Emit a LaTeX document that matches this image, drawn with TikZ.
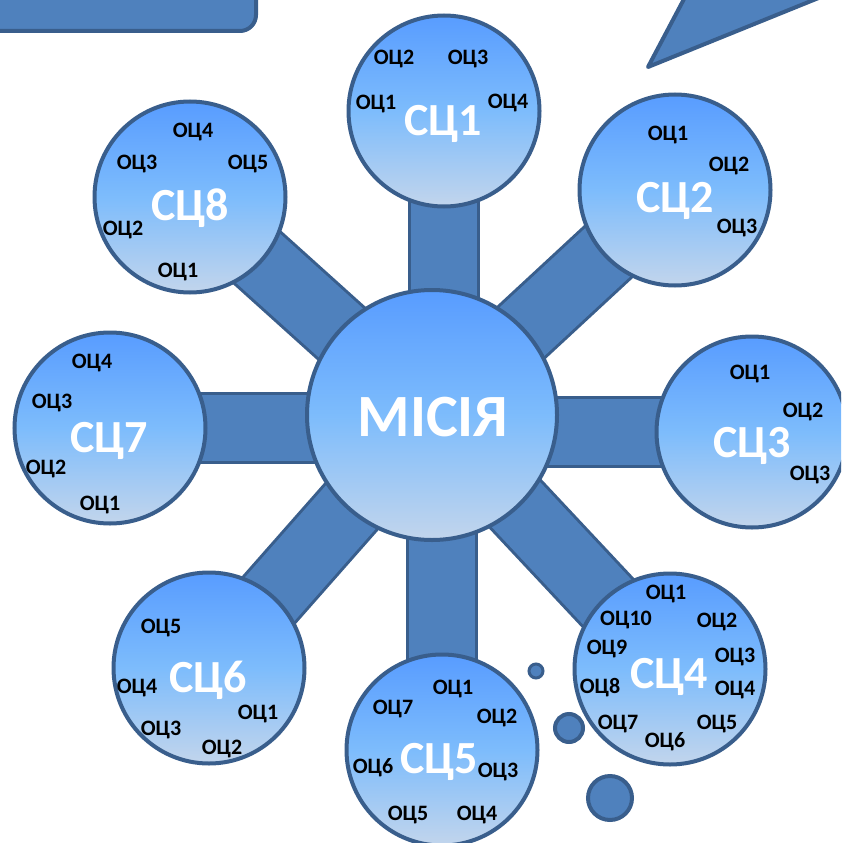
\documentclass[tikz,border=0pt]{standalone}
\usepackage{fontspec}
\setmainfont{Carlito}
\usetikzlibrary{backgrounds}
\definecolor{barBlue}{RGB}{79,129,189}
\definecolor{edgeBlue}{RGB}{57,94,140}
\definecolor{topBlue}{RGB}{88,156,255}
\definecolor{midBlue}{RGB}{125,188,252}
\definecolor{lowBlue}{RGB}{194,213,236}
\tikzset{
	satCircle/.style={circle, draw=edgeBlue, line width=4pt, top color=topBlue, bottom color=lowBlue, middle color=midBlue, minimum size=191pt, inner sep=0pt},
	satLabel/.style={text=white, font=\bfseries\fontsize{46}{46}\selectfont, inner sep=0pt, text depth=0pt},
	goalLabel/.style={font=\bfseries\fontsize{22}{22}\selectfont, inner sep=0pt, text depth=0pt},
	barOuter/.style={line width=72pt, draw=edgeBlue},
	barInner/.style={line width=66pt, draw=barBlue},
	bubble/.style={circle, draw=edgeBlue, fill=barBlue, line width=4pt, inner sep=0pt}
}
\begin{document}
\begin{tikzpicture}[x=1pt, y=-1pt]
\useasboundingbox (0,0) rectangle (841,843);
\clip (0,0) rectangle (841,843);
\draw[draw=edgeBlue, fill=barBlue, line width=4pt, rounded corners=16pt] (-30,-30) rectangle (256,31);
\draw[draw=edgeBlue, fill=barBlue, line width=4pt, line join=round] (648,67) -- (702,-35) -- (900,-35) -- cycle;

\node[satCircle, minimum size=250pt](missionCircle) at (432,415){};
	\node[satLabel, font=\bfseries\fontsize{60}{60}\selectfont](missionLabel) at (433,417){МІСІЯ};

	\node[satCircle](sc1Circle) at (444,111){};
	\node[satCircle](sc2Circle) at (675,190){};
	\node[satCircle](sc3Circle) at (752,432){};
	\node[satCircle](sc4Circle) at (670,669){};
	\node[satCircle](sc5Circle) at (442,750){};
	\node[satCircle](sc6Circle) at (209,668){};
	\node[satCircle](sc7Circle) at (110,428){};
	\node[satCircle](sc8Circle) at (190,197){};

	\begin{pgfonlayer}{background}
	\draw[barOuter] (sc1Circle.center) -- (sc1Circle.center |- missionCircle.center);
	\draw[barOuter] (missionCircle.center) -- (sc2Circle.center);
	\draw[barOuter] (sc3Circle.center) -- (sc3Circle.center -| missionCircle.center);
	\draw[barOuter] (missionCircle.center) -- (sc4Circle.center);
	\draw[barOuter] (sc5Circle.center) -- (sc5Circle.center |- missionCircle.center);
	\draw[barOuter] (missionCircle.center) -- (sc6Circle.center);
	\draw[barOuter] (sc7Circle.center) -- (sc7Circle.center -| missionCircle.center);
	\draw[barOuter] (missionCircle.center) -- (sc8Circle.center);
	\draw[barInner] (sc1Circle.center) -- (sc1Circle.center |- missionCircle.center);
	\draw[barInner] (missionCircle.center) -- (sc2Circle.center);
	\draw[barInner] (sc3Circle.center) -- (sc3Circle.center -| missionCircle.center);
	\draw[barInner] (missionCircle.center) -- (sc4Circle.center);
	\draw[barInner] (sc5Circle.center) -- (sc5Circle.center |- missionCircle.center);
	\draw[barInner] (missionCircle.center) -- (sc6Circle.center);
	\draw[barInner] (sc7Circle.center) -- (sc7Circle.center -| missionCircle.center);
	\draw[barInner] (missionCircle.center) -- (sc8Circle.center);
	\end{pgfonlayer}

	\node[bubble, minimum size=14pt, line width=3pt](bubbleSmall) at (536,671){};
	\node[bubble, minimum size=28pt](bubbleMid) at (569,728){};
	\node[bubble, minimum size=44pt](bubbleBig) at (610,798){};

	\node[satLabel](sc1Label) at (443,120){СЦ1};
	\node[goalLabel](sc1Goal1) at (376,102){ОЦ1};
	\node[goalLabel](sc1Goal2) at (394,57){ОЦ2};
	\node[goalLabel](sc1Goal3) at (468,57){ОЦ3};
	\node[goalLabel](sc1Goal4) at (508,101){ОЦ4};

	\node[satLabel](sc2Label) at (675,197){СЦ2};
	\node[goalLabel](sc2Goal1) at (668,133){ОЦ1};
	\node[goalLabel](sc2Goal2) at (729,164){ОЦ2};
	\node[goalLabel](sc2Goal3) at (737,226){ОЦ3};

	\node[satLabel](sc3Label) at (752,442){СЦ3};
	\node[goalLabel](sc3Goal1) at (750,372){ОЦ1};
	\node[goalLabel](sc3Goal2) at (803,410){ОЦ2};
	\node[goalLabel](sc3Goal3) at (810,473){ОЦ3};

	\node[satLabel](sc4Label) at (669,673){СЦ4};
	\node[goalLabel](sc4Goal1) at (666,592){ОЦ1};
	\node[goalLabel](sc4Goal2) at (717,620){ОЦ2};
	\node[goalLabel](sc4Goal3) at (735,655){ОЦ3};
	\node[goalLabel](sc4Goal4) at (735,688){ОЦ4};
	\node[goalLabel](sc4Goal5) at (717,722){ОЦ5};
	\node[goalLabel](sc4Goal6) at (665,740){ОЦ6};
	\node[goalLabel](sc4Goal7) at (618,722){ОЦ7};
	\node[goalLabel](sc4Goal8) at (600,686){ОЦ8};
	\node[goalLabel](sc4Goal9) at (607,647){ОЦ9};
	\node[goalLabel](sc4Goal10) at (626,618){ОЦ10};

	\node[satLabel](sc5Label) at (439,758){СЦ5};
	\node[goalLabel](sc5Goal1) at (453,687){ОЦ1};
	\node[goalLabel](sc5Goal2) at (497,716){ОЦ2};
	\node[goalLabel](sc5Goal3) at (498,770){ОЦ3};
	\node[goalLabel](sc5Goal4) at (477,813){ОЦ4};
	\node[goalLabel](sc5Goal5) at (408,813){ОЦ5};
	\node[goalLabel](sc5Goal6) at (373,766){ОЦ6};
	\node[goalLabel](sc5Goal7) at (393,707){ОЦ7};

	\node[satLabel](sc6Label) at (208,677){СЦ6};
	\node[goalLabel](sc6Goal1) at (258,712){ОЦ1};
	\node[goalLabel](sc6Goal2) at (222,747){ОЦ2};
	\node[goalLabel](sc6Goal3) at (161,728){ОЦ3};
	\node[goalLabel](sc6Goal4) at (137,686){ОЦ4};
	\node[goalLabel](sc6Goal5) at (161,626){ОЦ5};

	\node[satLabel](sc7Label) at (109,437){СЦ7};
	\node[goalLabel](sc7Goal1) at (100,503){ОЦ1};
	\node[goalLabel](sc7Goal2) at (46,467){ОЦ2};
	\node[goalLabel](sc7Goal3) at (52,401){ОЦ3};
	\node[goalLabel](sc7Goal4) at (92,361){ОЦ4};

	\node[satLabel](sc8Label) at (190,205){СЦ8};
	\node[goalLabel](sc8Goal1) at (178,270){ОЦ1};
	\node[goalLabel](sc8Goal2) at (123,228){ОЦ2};
	\node[goalLabel](sc8Goal3) at (137,162){ОЦ3};
	\node[goalLabel](sc8Goal4) at (193,130){ОЦ4};
	\node[goalLabel](sc8Goal5) at (248,162){ОЦ5};
\end{tikzpicture}
\end{document}
